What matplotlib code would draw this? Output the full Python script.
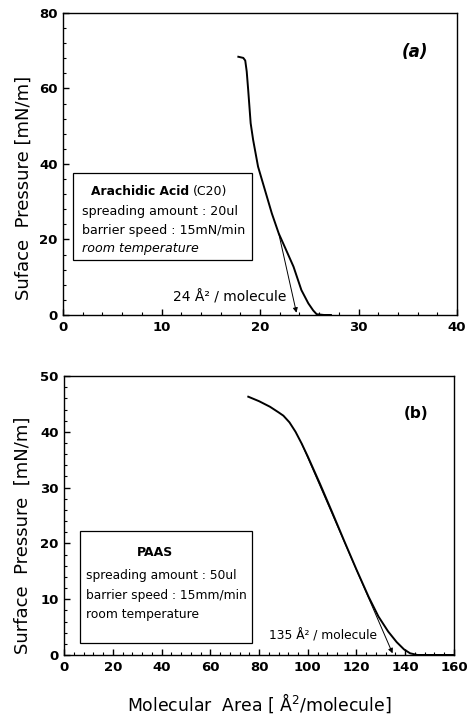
import matplotlib.pyplot as plt
from matplotlib.ticker import MultipleLocator

plt.rcParams['font.family'] = ['DejaVu Sans']

# (a) arachidic acid isotherm
area_a = [17.8, 18.3, 18.5, 18.65, 18.8, 19.05, 19.3, 19.8, 20.5, 21.2, 21.9, 22.5, 23.4, 24.2, 24.9, 25.4, 25.75, 26.5, 27.2]
press_a = [68.4, 68.1, 67.4, 64.5, 59.6, 50.8, 46.4, 39.3, 33.1, 26.9, 21.6, 18.1, 12.8, 6.6, 3.1, 1.2, 0.2, 0.0, 0.0]
tangent_a = ([21.9, 23.7], [21.6, 0.6])

# (b) PAAS isotherm
area_b = [75.6, 80.0, 84.5, 88.0, 90.0, 92.5, 95.0, 97.5, 100.0, 105.0, 110.0, 115.0, 120.0, 125.0,
          129.0, 133.0, 136.5, 139.5, 142.0, 145.0, 150.0, 160.0]
press_b = [46.3, 45.5, 44.5, 43.5, 42.9, 41.7, 40.0, 37.9, 35.6, 30.7, 25.6, 20.4, 15.3, 10.4,
           6.9, 4.2, 2.3, 1.0, 0.3, 0.0, 0.0, 0.0]
tangent_b = ([97.5, 134.8], [37.9, 0.3])

fig = plt.figure(figsize=(4.71, 7.17), dpi=100)
ax1 = fig.add_axes([0.1338, 0.5607, 0.8365, 0.4212])
ax2 = fig.add_axes([0.1359, 0.0865, 0.828, 0.389])


def style(ax, xmaj, xmin, ymaj, ymin):
    ax.xaxis.set_major_locator(MultipleLocator(xmaj))
    ax.xaxis.set_minor_locator(MultipleLocator(xmin))
    ax.yaxis.set_major_locator(MultipleLocator(ymaj))
    ax.yaxis.set_minor_locator(MultipleLocator(ymin))
    ax.tick_params(which='both', direction='in', top=False, right=False)
    ax.tick_params(which='major', length=4, width=1, pad=4)
    ax.tick_params(which='minor', length=2, width=0.8)
    for lab in ax.get_xticklabels() + ax.get_yticklabels():
        lab.set_fontweight('bold')
        lab.set_fontsize(9.5)
    for s in ax.spines.values():
        s.set_linewidth(1.0)


arrow = dict(arrowstyle='-|>', lw=0.7, color='black', mutation_scale=7, shrinkA=0, shrinkB=0)

# panel (a)
ax1.plot(area_a, press_a, color='black', lw=1.4)
ax1.annotate('', xy=(tangent_a[0][1], tangent_a[1][1]), xytext=(tangent_a[0][0], tangent_a[1][0]),
             arrowprops=arrow)
ax1.set_xlim(0, 40)
ax1.set_ylim(0, 80)
style(ax1, 10, 2, 20, 4)
ax1.set_ylabel('Suface  Pressure [mN/m]', fontsize=13)
ax1.yaxis.set_label_coords(-0.076, 0.42)
ax1.text(35.7, 69.7, '(a)', fontsize=12, fontweight='bold', fontstyle='italic', ha='center', va='center')
ax1.text(22.7, 4.8, '24 Å² / molecule', fontsize=10, ha='right', va='center')
ax1.add_patch(plt.Rectangle((1.0, 14.6), 18.2, 23.0, fill=False, lw=0.9))
t = ax1.text(2.8, 32.8, 'Arachidic Acid', fontsize=8.8, fontweight='bold', va='center')
ax1.annotate('(C20)', xy=(1, 0.5), xycoords=t, xytext=(3, 0), textcoords='offset points',
             fontsize=9, va='center')
ax1.text(1.9, 27.5, 'spreading amount : 20ul', fontsize=9.1, va='center')
ax1.text(1.9, 22.5, 'barrier speed : 15mN/min', fontsize=9.1, va='center')
ax1.text(1.9, 17.5, 'room temperature', fontsize=9.1, fontstyle='italic', va='center')

# panel (b)
ax2.plot(area_b, press_b, color='black', lw=1.4)
ax2.annotate('', xy=(tangent_b[0][1], tangent_b[1][1]), xytext=(tangent_b[0][0], tangent_b[1][0]),
             arrowprops=arrow)
ax2.set_xlim(0, 160)
ax2.set_ylim(0, 50)
style(ax2, 20, 4, 10, 2)
ax2.set_ylabel('Surface  Pressure  [mN/m]', fontsize=13)
ax2.yaxis.set_label_coords(-0.082, 0.43)
ax2.set_xlabel('Molecular  Area [ Å$^2$/molecule]', fontsize=12.4)
ax2.xaxis.set_label_coords(0.5, -0.13)
ax2.text(144.4, 43.2, '(b)', fontsize=11, fontweight='bold', ha='center', va='center')
ax2.text(128.4, 3.4, '135 Å² / molecule', fontsize=8.8, ha='right', va='center')
ax2.add_patch(plt.Rectangle((6.6, 2.1), 70.4, 20.2, fill=False, lw=0.9))
ax2.text(37.3, 18.3, 'PAAS', fontsize=9, fontweight='bold', va='center', ha='center')
ax2.text(9.0, 14.3, 'spreading amount : 50ul', fontsize=8.8, va='center')
ax2.text(9.0, 10.75, 'barrier speed : 15mm/min', fontsize=8.8, va='center')
ax2.text(9.0, 7.2, 'room temperature', fontsize=8.8, va='center')

fig.savefig('out.png', dpi=100)
